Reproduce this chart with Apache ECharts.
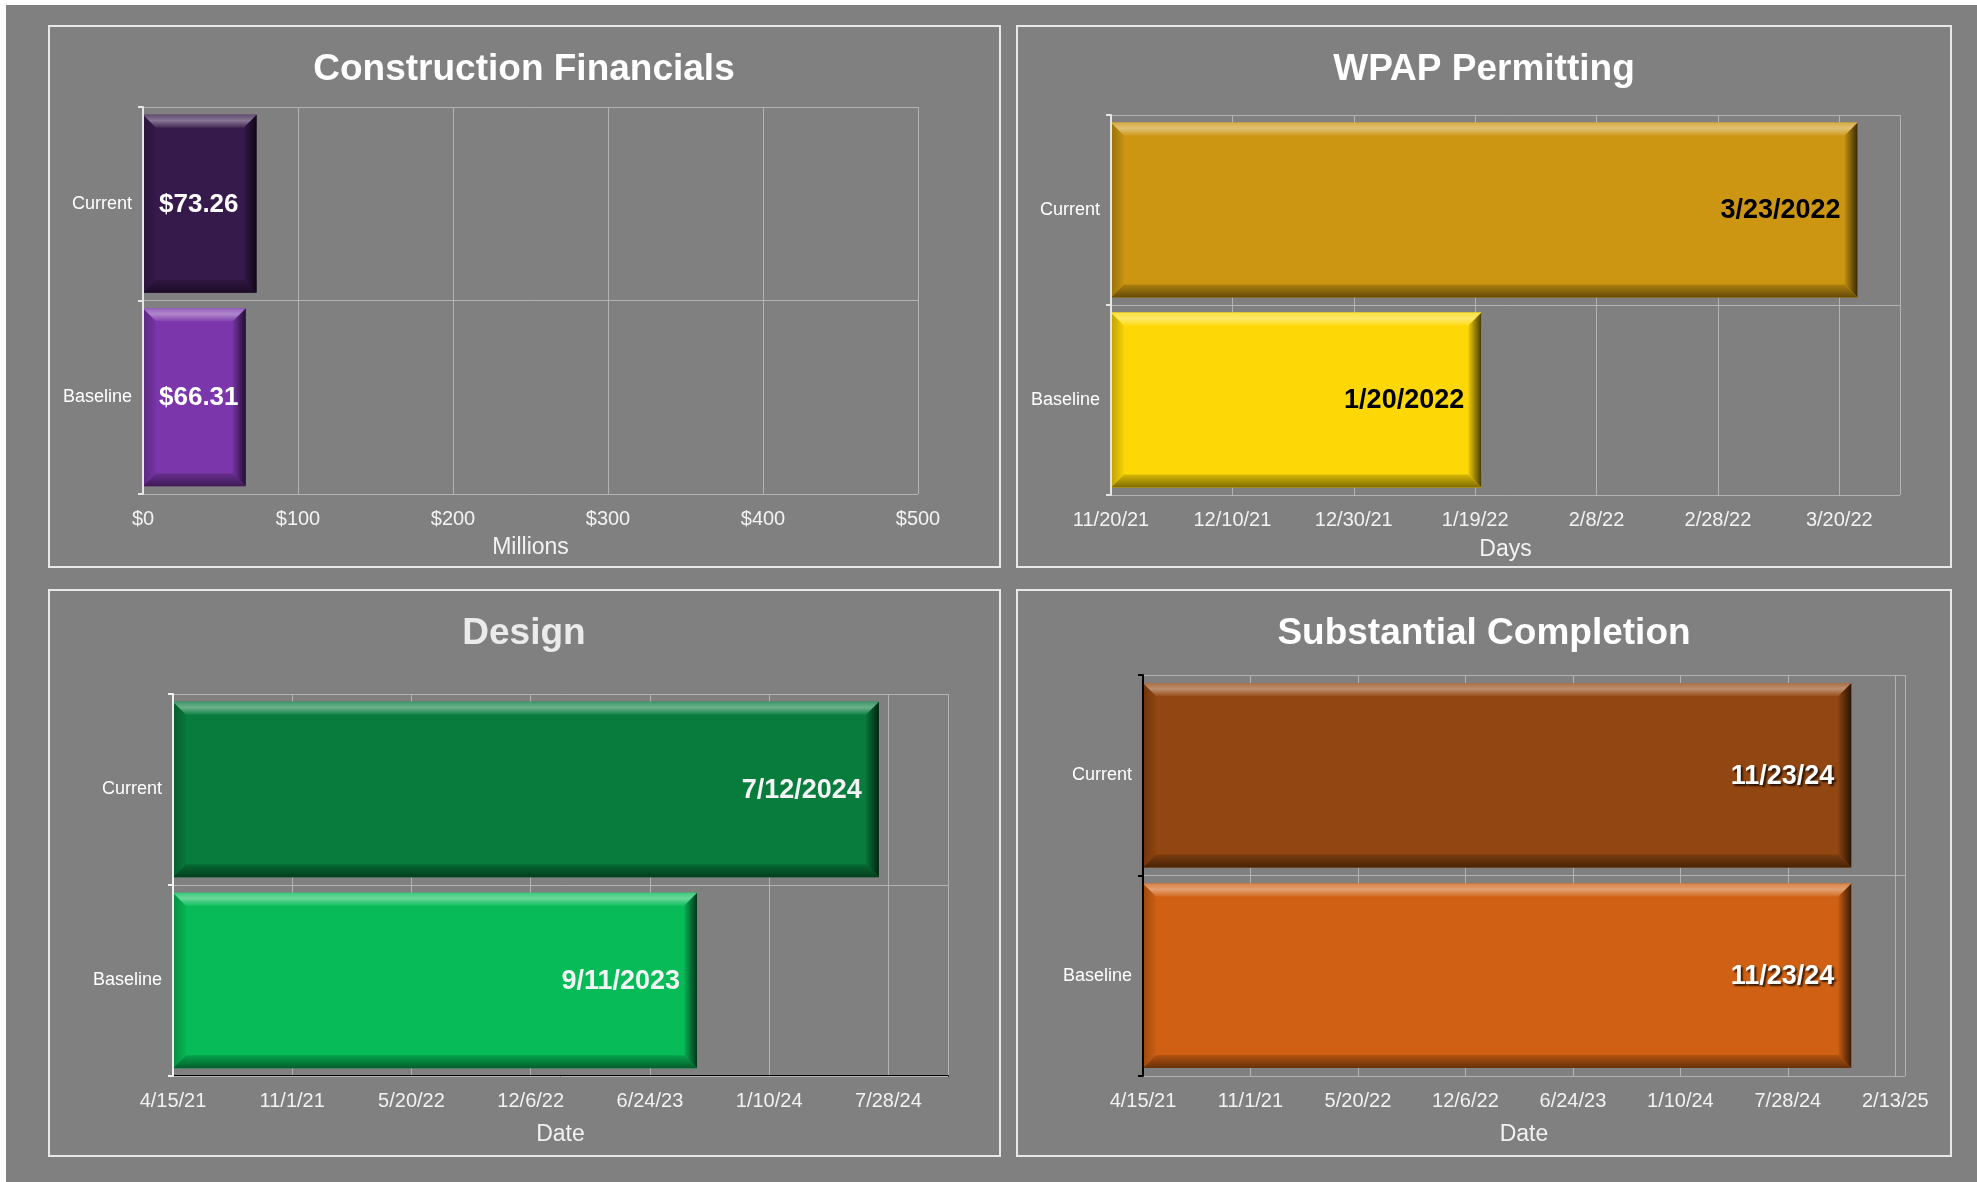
<!DOCTYPE html>
<html lang="en">
<head>
    <meta charset="utf-8">
    <title>Project Status Dashboard</title>
    <script src="https://cdn.jsdelivr.net/npm/echarts@6/dist/echarts.min.js"></script>
    <style>
        body { margin: 0; background: #fff; }
        #main { width: 1977px; height: 1182px; }
    </style>
</head>
<body>
<div id="main"></div>

<script type="text/javascript">
    // ---- data ----
    var categories = ['Baseline', 'Current'];

    var costMillions = [66.31, 73.26];
    var costAxis = [0, 500, 100];                          // min, max, step ($M)

    var permitDates = ['2022-01-20', '2022-03-23'];
    var permitAxis = ['2021-11-20', '2022-03-30', 20];     // start, end, step (days)

    var designDates = ['2023-09-11', '2024-07-12'];
    var designAxis = ['2021-04-15', '2024-11-05', 200];

    var completionDates = ['2024-11-23', '2024-11-23'];
    var completionAxis = ['2021-04-15', '2025-03-03', 200];

    // ---- helpers ----
    var FONT = '"Liberation Sans", Arial, sans-serif';
    var GRID_LINE = '#b3b3b3';
    var DAY = 864e5;

    function toDays(s, start) {
        return (Date.parse(s) - Date.parse(start)) / DAY;
    }
    function fmtDate(ms, longYear) {
        var d = new Date(ms);
        var y = String(d.getUTCFullYear());
        return (d.getUTCMonth() + 1) + '/' + d.getUTCDate() + '/' + (longYear ? y : y.slice(2));
    }
    function mix(hex, to, t) {
        var n = parseInt(hex.slice(1), 16);
        var c = [n >> 16 & 255, n >> 8 & 255, n & 255].map(function (v) {
            return Math.round(v + (to - v) * t);
        });
        return 'rgb(' + c.join(',') + ')';
    }
    function tint(hex, t) { return mix(hex, 255, t); }
    function shade(hex, t) { return mix(hex, 0, t); }

    // bevelled bar, like the excel "bevel" shape effect
    function bevelBar(colors, labels, lab) {
        return function (params, api) {
            var i = params.dataIndex;
            var c = api.value(1);
            var a = api.coord([0, c]);
            var e = api.coord([api.value(0), c]);
            var h = api.size([0, 1])[1] * 0.92;
            var x0 = a[0], x1 = e[0], y0 = a[1] - h / 2, y1 = a[1] + h / 2, b = 13;
            var base = colors[i];
            var G = echarts.graphic.LinearGradient;
            return {
                type: 'group',
                children: [
                    {type: 'rect', shape: {x: x0, y: y0, width: x1 - x0, height: h}, style: {fill: base}},
                    {type: 'polygon', shape: {points: [[x0, y0], [x0 + b, y0 + b], [x0 + b, y1 - b], [x0, y1]]},
                        style: {fill: new G(0, 0, 1, 0, [{offset: 0, color: shade(base, 0.25)}, {offset: 1, color: shade(base, 0.03)}])}},
                    {type: 'polygon', shape: {points: [[x1, y0], [x1, y1], [x1 - b, y1 - b], [x1 - b, y0 + b]]},
                        style: {fill: new G(0, 0, 1, 0, [{offset: 0, color: shade(base, 0.05)}, {offset: 1, color: shade(base, 0.72)}])}},
                    {type: 'polygon', shape: {points: [[x0, y1], [x1, y1], [x1 - b, y1 - b], [x0 + b, y1 - b]]},
                        style: {fill: new G(0, 0, 0, 1, [{offset: 0, color: shade(base, 0.15)}, {offset: 1, color: shade(base, 0.5)}])}},
                    {type: 'polygon', shape: {points: [[x0, y0], [x1, y0], [x1 - b, y0 + b], [x0 + b, y0 + b]]},
                        style: {fill: new G(0, 0, 0, 1, [{offset: 0, color: tint(base, 0.22)}, {offset: 0.45, color: tint(base, 0.4)}, {offset: 1, color: tint(base, 0.06)}])}},
                    {
                        type: 'text',
                        x: lab.align === 'left' ? x0 + 16 : x1 - 17,
                        y: a[1] + 1,
                        style: {
                            text: labels[i], fill: lab.color, fontSize: lab.size, fontWeight: 'bold',
                            fontFamily: FONT, align: lab.align, verticalAlign: 'middle',
                            textShadowColor: lab.shadow ? 'rgba(0,0,0,0.75)' : 'transparent',
                            textShadowOffsetX: 2, textShadowOffsetY: 2, textShadowBlur: 2
                        }
                    }
                ]
            };
        };
    }

    // ---- panels ----
    var panels = [
        {
            title: 'Construction Financials', titleAt: [524, 51], titleColor: '#ffffff',
            grid: {left: 143, top: 107, width: 775, height: 387},
            values: costMillions, min: costAxis[0], max: costAxis[1], step: costAxis[2],
            tickFmt: function (v) { return '$' + v; }, showMax: true,
            labels: costMillions.map(function (v) { return '$' + v.toFixed(2); }),
            colors: ['#7a36aa', '#371a4c'],
            lab: {color: '#ffffff', size: 26, align: 'left'},
            name: 'Millions', nameGap: 42, yLine: '#e6e6e6', xLine: null
        },
        {
            title: 'WPAP Permitting', titleAt: [1484, 51], titleColor: '#ffffff',
            grid: {left: 1111, top: 115, width: 789, height: 380},
            values: permitDates.map(function (d) { return toDays(d, permitAxis[0]); }),
            min: 0, max: toDays(permitAxis[1], permitAxis[0]), step: permitAxis[2],
            tickFmt: function (v) { return fmtDate(Date.parse(permitAxis[0]) + v * DAY, false); }, showMax: false,
            labels: permitDates.map(function (d) { return fmtDate(Date.parse(d), true); }),
            colors: ['#fdd806', '#cc9612'],
            lab: {color: '#000000', size: 27, align: 'right'},
            name: 'Days', nameGap: 43, yLine: '#e6e6e6', xLine: null
        },
        {
            title: 'Design', titleAt: [524, 615], titleColor: '#ebebeb',
            grid: {left: 173, top: 694, width: 775, height: 382},
            values: designDates.map(function (d) { return toDays(d, designAxis[0]); }),
            min: 0, max: toDays(designAxis[1], designAxis[0]), step: designAxis[2],
            tickFmt: function (v) { return fmtDate(Date.parse(designAxis[0]) + v * DAY, false); }, showMax: false,
            labels: designDates.map(function (d) { return fmtDate(Date.parse(d), true); }),
            colors: ['#07bc58', '#077c3c'],
            lab: {color: '#f4f4f4', size: 27, align: 'right'},
            name: 'Date', nameGap: 47, yLine: '#f0f0f0', xLine: '#000000'
        },
        {
            title: 'Substantial Completion', titleAt: [1484, 615], titleColor: '#ffffff',
            grid: {left: 1143, top: 675, width: 762, height: 401},
            values: completionDates.map(function (d) { return toDays(d, completionAxis[0]); }),
            min: 0, max: toDays(completionAxis[1], completionAxis[0]), step: completionAxis[2],
            tickFmt: function (v) { return fmtDate(Date.parse(completionAxis[0]) + v * DAY, false); }, showMax: false,
            labels: completionDates.map(function (d) { return fmtDate(Date.parse(d), false); }),
            colors: ['#d06114', '#924611'],
            lab: {color: '#ffffff', size: 27, align: 'right', shadow: true},
            name: 'Date', nameGap: 47, yLine: '#000000', xLine: null
        }
    ];

    var option = {
        backgroundColor: '#ffffff',
        animation: false,
        title: [], grid: [], xAxis: [], yAxis: [], series: [],
        graphic: [
            {type: 'rect', z: -10, shape: {x: 6, y: 5, width: 1971, height: 1177}, style: {fill: '#808080'}},
            {type: 'rect', shape: {x: 49, y: 26, width: 951, height: 541}, style: {fill: 'none', stroke: '#e8e8e8', lineWidth: 2}},
            {type: 'rect', shape: {x: 1017, y: 26, width: 934, height: 541}, style: {fill: 'none', stroke: '#e8e8e8', lineWidth: 2}},
            {type: 'rect', shape: {x: 49, y: 590, width: 951, height: 566}, style: {fill: 'none', stroke: '#e8e8e8', lineWidth: 2}},
            {type: 'rect', shape: {x: 1017, y: 590, width: 934, height: 566}, style: {fill: 'none', stroke: '#e8e8e8', lineWidth: 2}}
        ]
    };

    panels.forEach(function (p, k) {
        option.title.push({
            text: p.title, left: p.titleAt[0], top: p.titleAt[1], textAlign: 'center', padding: 0,
            textStyle: {color: p.titleColor, fontSize: 37, fontWeight: 'bold', fontFamily: FONT}
        });
        var g = p.grid;
        option.grid.push({left: g.left, top: g.top, width: g.width, height: g.height,
            containLabel: false, outerBoundsMode: 'none'});
        option.xAxis.push({
            type: 'value', gridIndex: k, min: p.min, max: p.max, interval: p.step,
            name: p.name, nameLocation: 'middle', nameGap: p.nameGap,
            nameTextStyle: {color: '#f2f2f2', fontSize: 23, fontFamily: FONT},
            axisLine: {show: !!p.xLine, lineStyle: {color: p.xLine || '#000', width: 2}},
            axisTick: {show: false},
            axisLabel: {color: '#f2f2f2', fontSize: 20, fontFamily: FONT, margin: 15,
                formatter: p.tickFmt, showMaxLabel: p.showMax, showMinLabel: true, hideOverlap: false},
            splitLine: {show: true, lineStyle: {color: GRID_LINE, width: 1}}
        });
        option.yAxis.push({
            type: 'category', gridIndex: k, data: categories, z: 3,
            axisLine: {show: true, lineStyle: {color: p.yLine, width: 2}},
            axisTick: {show: true, length: 5, lineStyle: {color: p.yLine, width: 2}},
            axisLabel: {color: '#ffffff', fontSize: 18, fontFamily: FONT, margin: 11},
            splitLine: {show: true, lineStyle: {color: GRID_LINE, width: 1}}
        });
        option.series.push({
            type: 'custom', xAxisIndex: k, yAxisIndex: k,
            data: p.values.map(function (v, i) { return [v, i]; }),
            encode: {x: 0, y: 1},
            renderItem: bevelBar(p.colors, p.labels, p.lab)
        });
    });

    var myChart = echarts.init(document.getElementById('main'));
    myChart.setOption(option);
</script>
</body>
</html>
